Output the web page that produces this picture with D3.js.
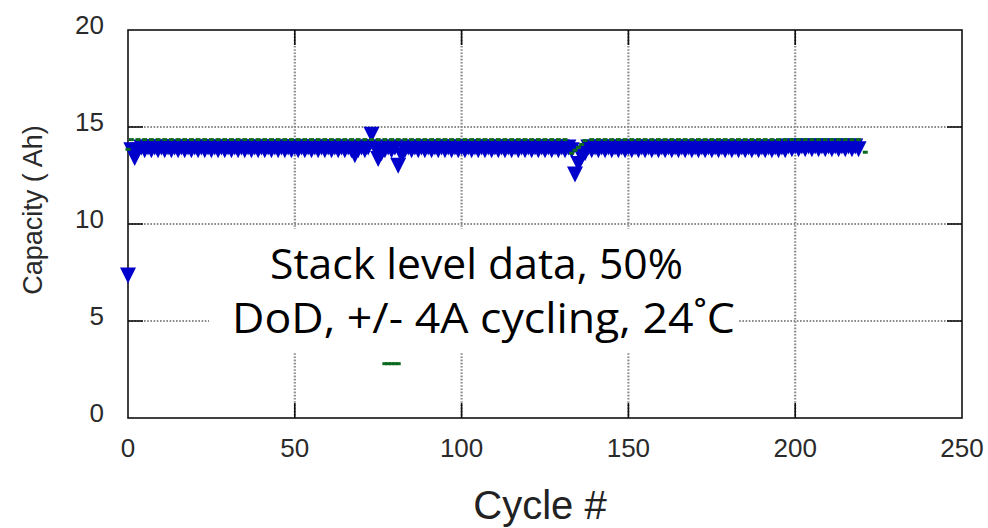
<!DOCTYPE html>
<html>
<head>
<meta charset="utf-8">
<script src="https://cdn.jsdelivr.net/npm/d3@7"></script>
<style>
  html, body { margin: 0; padding: 0; background: #fff; }
  svg { display: block; }
</style>
</head>
<body>
<svg id="chart" width="988" height="528"></svg>
<script>
// ---------- DATA ----------
const xTicks = [0, 50, 100, 150, 200, 250];
const yTicks = [0, 5, 10, 15, 20];
const xLabel = "Cycle #";
const yLabel = "Capacity ( Ah)";
const noteLines = ["Stack level data, 50%", "DoD, +/- 4A cycling, 24˚C"];

// Blue series (down triangles), one point per cycle
const blueCycles = [
  0,1,2,3,4,5,6,7,8,9,10,11,12,13,14,15,16,17,18,19,
  20,21,22,23,24,25,26,27,28,29,30,31,32,33,34,35,36,37,38,39,
  40,41,42,43,44,45,46,47,48,49,50,51,52,53,54,55,56,57,58,59,
  60,61,62,63,64,65,66,67,68,69,70,71,72,73,74,75,76,77,78,79,
  80,81,82,83,84,85,86,87,88,89,90,91,92,93,94,95,96,97,98,99,
  100,101,102,103,104,105,106,107,108,109,110,111,112,113,114,115,116,117,118,119,
  120,121,122,123,124,125,126,127,128,129,130,131,132,133,134,135,136,137,138,139,
  140,141,142,143,144,145,146,147,148,149,150,151,152,153,154,155,156,157,158,159,
  160,161,162,163,164,165,166,167,168,169,170,171,172,173,174,175,176,177,178,179,
  180,181,182,183,184,185,186,187,188,189,190,191,192,193,194,195,196,197,198,199,
  200,201,202,203,204,205,206,207,208,209,210,211,212,213,214,215,216,217,218,219
];
const blueValues = [
  7.4,13.85,13.45,13.85,14.0,13.85,14.0,13.85,14.0,13.85,14.0,13.85,14.0,13.85,14.0,13.85,14.0,13.85,14.0,13.85,
  14.0,13.85,14.0,13.85,14.0,13.85,14.0,13.85,14.0,13.85,14.0,13.85,14.0,13.85,14.0,13.85,14.0,13.85,14.0,13.85,
  14.0,13.85,14.0,13.85,14.0,13.85,14.0,13.85,14.0,13.85,14.0,13.85,14.0,13.85,14.0,13.85,14.0,13.85,14.0,13.85,
  14.0,13.85,14.0,13.85,14.0,13.85,14.0,13.85,13.6,13.85,14.0,13.85,14.0,14.65,14.0,13.4,13.7,13.85,14.0,13.85,
  14.0,13.05,13.6,13.85,14.0,13.85,14.0,13.85,14.0,13.85,14.0,13.85,14.0,13.85,14.0,13.85,14.0,13.85,14.0,13.85,
  14.0,13.85,14.0,13.85,14.0,13.85,14.0,13.85,14.0,13.85,14.0,13.85,14.0,13.85,14.0,13.85,14.0,13.85,14.0,13.85,
  14.0,13.85,14.0,13.85,14.0,13.85,14.0,13.85,14.0,13.85,14.0,13.85,14.0,13.85,12.6,13.15,13.5,13.7,14.0,13.85,
  14.0,13.85,14.0,13.85,14.0,13.85,14.0,13.85,14.0,13.85,14.0,13.85,14.0,13.85,14.0,13.85,14.0,13.85,14.0,13.85,
  14.0,13.85,14.0,13.85,14.0,13.85,14.0,13.85,14.0,13.85,14.0,13.85,14.0,13.85,14.0,13.85,14.0,13.85,14.0,13.85,
  14.0,13.85,14.0,13.85,14.0,13.85,14.0,13.85,14.0,13.85,14.0,13.85,14.0,13.85,14.0,13.85,14.0,13.85,14.05,13.9,
  14.05,13.9,14.05,13.9,14.05,13.9,14.05,13.9,14.05,13.9,14.05,13.9,14.05,13.9,14.05,13.9,14.05,13.9,14.05,13.9
];

// Green series (short dashes)
const greenCycles = [
  0,1,3,5,7,9,11,13,15,17,19,21,23,25,27,29,31,33,35,37,39,
  41,43,45,47,49,51,53,55,57,59,61,63,65,67,69,71,73,75,77,79,
  81,83,85,87,89,91,93,95,97,99,101,103,105,107,109,111,113,115,117,119,
  121,123,125,127,129,131,133,134,135,136,137,139,141,143,145,147,149,151,153,155,157,159,
  161,163,165,167,169,171,173,175,177,179,181,183,185,187,189,191,193,195,197,199,
  201,203,205,207,209,211,213,215,217,219,221,
  77,78,79,80,81
];
const greenValues = [
  13.85,14.35,14.35,14.35,14.35,14.35,14.35,14.35,14.35,14.35,14.35,14.35,14.35,14.35,14.35,14.35,14.35,14.35,14.35,14.35,14.35,
  14.35,14.35,14.35,14.35,14.35,14.35,14.35,14.35,14.35,14.35,14.35,14.35,14.35,14.35,14.35,14.35,14.35,14.35,14.35,14.35,
  14.35,14.35,14.35,14.35,14.35,14.35,14.35,14.35,14.35,14.35,14.35,14.35,14.35,14.35,14.35,14.35,14.35,14.35,14.35,14.35,
  14.35,14.35,14.35,14.35,14.35,14.35,13.65,13.8,13.95,14.1,14.3,14.35,14.35,14.35,14.35,14.35,14.35,14.35,14.35,14.35,14.35,14.35,
  14.35,14.35,14.35,14.35,14.35,14.35,14.35,14.35,14.35,14.35,14.35,14.35,14.35,14.35,14.35,14.35,14.35,14.35,14.35,14.35,
  14.35,14.35,14.35,14.35,14.35,14.35,14.35,14.35,14.35,14.35,13.7,
  2.8,2.8,2.8,2.8,2.8
];

// ---------- CHART ----------
const svg = d3.select("#chart");
const m = { left: 128, right: 962, top: 30, bottom: 418 };
const x = d3.scaleLinear().domain([0, 250]).range([m.left, m.right]);
const y = d3.scaleLinear().domain([0, 20]).range([m.bottom, m.top]);

const tickFont = "'Liberation Sans', Arial, Helvetica, sans-serif";
const tickLen = 15;

// grid (dotted)
const grid = svg.append("g");
grid.selectAll("line.gx").data(xTicks.slice(1, -1)).join("line")
  .attr("x1", d => x(d)).attr("x2", d => x(d))
  .attr("y1", m.top).attr("y2", m.bottom)
  .attr("stroke", "#8a8a8a").attr("stroke-width", 2.2).attr("stroke-dasharray", "1.6,1.6");
grid.selectAll("line.gy").data(yTicks.slice(1, -1)).join("line")
  .attr("x1", m.left).attr("x2", m.right)
  .attr("y1", d => y(d)).attr("y2", d => y(d))
  .attr("stroke", "#8a8a8a").attr("stroke-width", 2.2).attr("stroke-dasharray", "1.6,1.6");

// inward ticks on all four sides
const ticks = svg.append("g").attr("stroke", "#111").attr("stroke-width", 1.6);
xTicks.slice(1, -1).forEach(t => {
  ticks.append("line").attr("x1", x(t)).attr("x2", x(t)).attr("y1", m.bottom).attr("y2", m.bottom - tickLen);
  ticks.append("line").attr("x1", x(t)).attr("x2", x(t)).attr("y1", m.top).attr("y2", m.top + tickLen);
});
yTicks.slice(1, -1).forEach(t => {
  ticks.append("line").attr("x1", m.left).attr("x2", m.left + tickLen).attr("y1", y(t)).attr("y2", y(t));
  ticks.append("line").attr("x1", m.right).attr("x2", m.right - tickLen).attr("y1", y(t)).attr("y2", y(t));
});

// frame
svg.append("rect")
  .attr("x", m.left).attr("y", m.top)
  .attr("width", m.right - m.left).attr("height", m.bottom - m.top)
  .attr("fill", "none").attr("stroke", "#111").attr("stroke-width", 1.6);

// tick labels
svg.append("g").selectAll("text").data(xTicks).join("text")
  .attr("x", d => x(d)).attr("y", 448)
  .attr("text-anchor", "middle").attr("dominant-baseline", "central")
  .attr("font-family", tickFont).attr("font-size", 26).attr("fill", "#2a2a2a")
  .text(d => d);
svg.append("g").selectAll("text").data(yTicks).join("text")
  .attr("x", 104).attr("y", d => y(d) - 5)
  .attr("text-anchor", "end").attr("dominant-baseline", "central")
  .attr("font-family", tickFont).attr("font-size", 26).attr("fill", "#2a2a2a")
  .text(d => d);

// axis titles
svg.append("text")
  .attr("x", 540).attr("y", 519)
  .attr("text-anchor", "middle")
  .attr("font-family", tickFont).attr("font-size", 40).attr("fill", "#222")
  .text(xLabel);
svg.append("text")
  .attr("transform", "translate(42,210) rotate(-90)")
  .attr("text-anchor", "middle")
  .attr("font-family", tickFont).attr("font-size", 27).attr("fill", "#2a2a2a")
  .text(yLabel);

// white annotation box
svg.append("rect")
  .attr("x", 209).attr("y", 229).attr("width", 529).attr("height", 123)
  .attr("fill", "#fff");

// blue down-triangles
const triW = 16, triH = 16;
const triPath = `M${-triW/2},${-triH/2}L${triW/2},${-triH/2}L0,${triH/2}Z`;
const blueData = blueCycles.map((c, i) => ({ c, v: blueValues[i] }));
svg.append("g").selectAll("path").data(blueData).join("path")
  .attr("d", triPath)
  .attr("transform", d => `translate(${x(d.c)},${y(d.v) + 1})`)
  .attr("fill", "#0000cc");

// green dashes
const greenData = greenCycles.map((c, i) => ({ c, v: greenValues[i] }));
svg.append("g").selectAll("rect").data(greenData).join("rect")
  .attr("x", d => x(d.c) - 2.5).attr("y", d => y(d.v) - 1.5)
  .attr("width", 5).attr("height", 3)
  .attr("fill", "#0a6a1e");

// annotation text
const noteFont = "'Open Sans', 'Noto Sans', sans-serif";
svg.append("text")
  .attr("x", 270).attr("y", 279)
  .attr("font-family", noteFont).attr("font-size", 42).attr("fill", "#000")
  .attr("textLength", 413).attr("lengthAdjust", "spacingAndGlyphs")
  .text(noteLines[0]);
svg.append("text")
  .attr("x", 232).attr("y", 333)
  .attr("font-family", noteFont).attr("font-size", 42).attr("fill", "#000")
  .attr("textLength", 503).attr("lengthAdjust", "spacingAndGlyphs")
  .text(noteLines[1]);
</script>
</body>
</html>
